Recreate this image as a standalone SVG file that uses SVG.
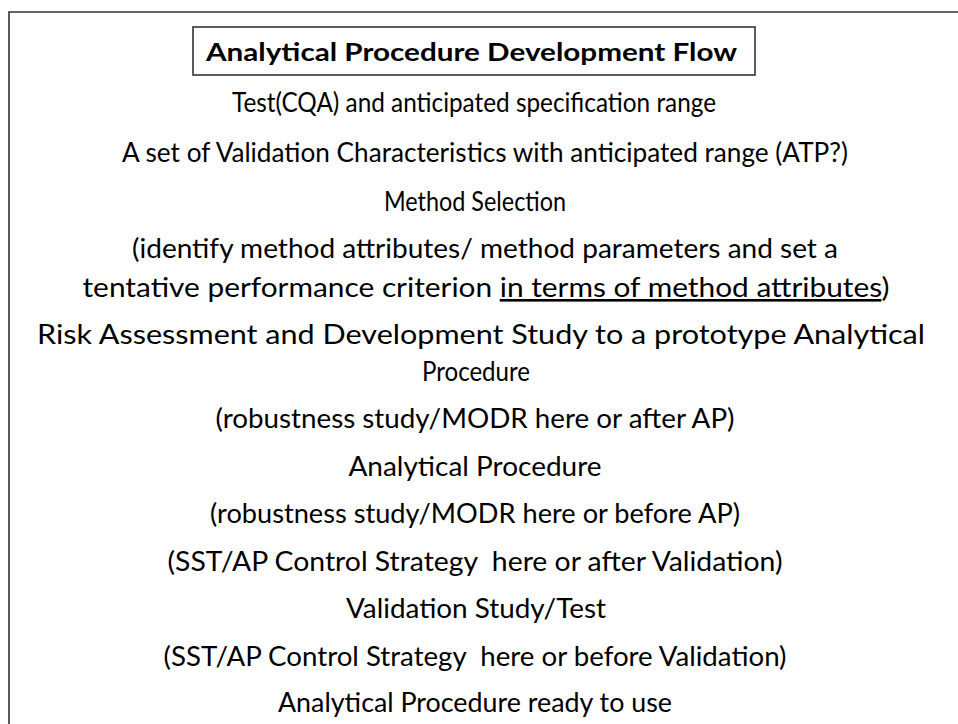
<svg xmlns="http://www.w3.org/2000/svg" width="958" height="724" viewBox="0 0 958 724">
  <style>
    .frame { fill: none; stroke: #333; stroke-width: 1.6; }
    .line { font-family: Lato, "Open Sans", "Liberation Sans", sans-serif; font-size: 26px; fill: #000; text-anchor: middle; }
    .title { font-family: Lato, "Open Sans", "Liberation Sans", sans-serif; font-size: 25px; font-weight: bold; fill: #000; }
    .ul { text-decoration: underline; }
  </style>
  <rect width="958" height="724" fill="#fff"/>
  <!-- slide frame: left and top edges, running off the canvas -->
  <path class="frame" d="M9,724 V12 H958"/>

  <g id="title">
    <rect class="frame" x="193" y="27" width="562" height="48"/>
    <text class="title" x="206" y="61" textLength="531" lengthAdjust="spacingAndGlyphs">Analytical Procedure Development Flow</text>
  </g>

  <g id="steps">
    <text class="line" x="474" y="112" textLength="484" lengthAdjust="spacingAndGlyphs">Test(CQA) and anticipated specification range</text>
    <text class="line" x="485" y="162" textLength="726" lengthAdjust="spacingAndGlyphs">A set of Validation Characteristics with anticipated range (ATP?)</text>
    <text class="line" x="475" y="211" textLength="182" lengthAdjust="spacingAndGlyphs">Method Selection</text>
    <text class="line" x="485" y="258" textLength="706" lengthAdjust="spacingAndGlyphs">(identify method attributes/ method parameters and set a</text>
    <text class="line" x="486" y="297" textLength="807" lengthAdjust="spacingAndGlyphs">tentative performance criterion <tspan class="ul">in terms of method attributes</tspan>)</text>
    <text class="line" x="481" y="344" textLength="888" lengthAdjust="spacingAndGlyphs">Risk Assessment and Development Study to a prototype Analytical</text>
    <text class="line" x="476" y="381" textLength="108" lengthAdjust="spacingAndGlyphs">Procedure</text>
    <text class="line" x="475" y="428" textLength="519" lengthAdjust="spacingAndGlyphs">(robustness study/MODR here or after AP)</text>
    <text class="line" x="475" y="476" textLength="253" lengthAdjust="spacingAndGlyphs">Analytical Procedure</text>
    <text class="line" x="475" y="523" textLength="530" lengthAdjust="spacingAndGlyphs">(robustness study/MODR here or before AP)</text>
    <text class="line" x="475" y="571" textLength="615" lengthAdjust="spacingAndGlyphs" xml:space="preserve">(SST/AP Control Strategy  here or after Validation)</text>
    <text class="line" x="476" y="618" textLength="260" lengthAdjust="spacingAndGlyphs">Validation Study/Test</text>
    <text class="line" x="475" y="666" textLength="623" lengthAdjust="spacingAndGlyphs" xml:space="preserve">(SST/AP Control Strategy  here or before Validation)</text>
    <text class="line" x="475" y="712" textLength="394" lengthAdjust="spacingAndGlyphs">Analytical Procedure ready to use</text>
  </g>
</svg>
